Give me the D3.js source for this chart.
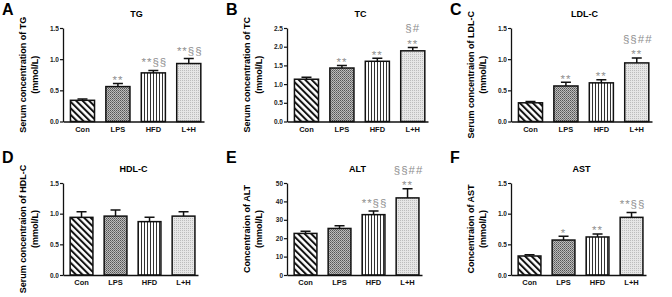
<!DOCTYPE html>
<html>
<head>
<meta charset="utf-8">
<script src="https://cdn.jsdelivr.net/npm/d3@7"></script>
<style>
  body { margin: 0; background: #fff; }
  svg { display: block; font-family: "Liberation Sans", Arial, sans-serif; }
</style>
</head>
<body>
<div id="chart-area"></div>
<script>
// Groups on the x axis of every panel
var groups = ["Con", "LPS", "HFD", "L+H"];

// Means and SEM
var tgMean = [0.34, 0.56, 0.78, 0.93],  tgErr = [0.02, 0.05, 0.04, 0.08];
var tcMean = [1.13, 1.43, 1.61, 1.89],  tcErr = [0.05, 0.07, 0.08, 0.09];
var ldlMean = [0.30, 0.57, 0.62, 0.94], ldlErr = [0.02, 0.06, 0.05, 0.08];
var hdlMean = [0.94, 0.96, 0.87, 0.96], hdlErr = [0.09, 0.10, 0.07, 0.07];
var altMean = [22.6, 25.3, 32.8, 41.9], altErr = [1.2, 1.5, 2.0, 5.0];
var astMean = [0.31, 0.57, 0.62, 0.94], astErr = [0.02, 0.06, 0.05, 0.08];

// Significance marks (bottom line first)
var tgMarks = [[], ["**"], ["**§§"], ["**§§"]];
var tcMarks = [[], ["**"], ["**"], ["**", "§#"]];
var ldlMarks = [[], ["**"], ["**"], ["**", "§§##"]];
var hdlMarks = [[], [], [], []];
var altMarks = [[], [], ["**§§"], ["**", "§§##"]];
var astMarks = [[], ["*"], ["**"], ["**§§"]];

// Tick values
var ticks15 = [0, 0.5, 1.0, 1.5];
var ticks25 = [0, 0.5, 1.0, 1.5, 2.0, 2.5];
var ticks50 = [0, 10, 20, 30, 40, 50];

var panels = [
  {letter: "A", title: "TG", lab: ["Serum concentration of TG", "(mmol/L)"], mean: tgMean, err: tgErr, marks: tgMarks, ticks: ticks15, fmt: ".1f", ox: 0, oy: 0},
  {letter: "B", title: "TC", lab: ["Serum concentration of TC", "(mmol/L)"], mean: tcMean, err: tcErr, marks: tcMarks, ticks: ticks25, fmt: ".1f", ox: 224, oy: 0},
  {letter: "C", title: "LDL-C", lab: ["Serum concentraion of LDL-C", "(mmol/L)"], mean: ldlMean, err: ldlErr, marks: ldlMarks, ticks: ticks15, fmt: ".1f", ox: 448, oy: 0},
  {letter: "D", title: "HDL-C", lab: ["Serum concentraion of HDL-C", "(mmol/L)"], mean: hdlMean, err: hdlErr, marks: hdlMarks, ticks: ticks15, fmt: ".1f", ox: 0, oy: 148},
  {letter: "E", title: "ALT", lab: ["Concentraion of ALT", "(mmol/L)"], mean: altMean, err: altErr, marks: altMarks, ticks: ticks50, fmt: "d", ox: 224, oy: 148},
  {letter: "F", title: "AST", lab: ["Concentraion of AST", "(mmol/L)"], mean: astMean, err: astErr, marks: astMarks, ticks: ticks15, fmt: ".1f", ox: 448, oy: 148}
];

var svg = d3.select("#chart-area")
  .append("svg")
    .attr("width", 672)
    .attr("height", 297);

// Fill patterns for the four groups
var defs = svg.append("defs");

var p0 = defs.append("pattern")
    .attr("id", "fill-Con")
    .attr("patternUnits", "userSpaceOnUse")
    .attr("width", 4.6).attr("height", 4.6)
    .attr("patternTransform", "rotate(-45)");
p0.append("rect").attr("width", 4.6).attr("height", 4.6).attr("fill", "#fff");
p0.append("rect").attr("width", 2).attr("height", 4.6).attr("fill", "#111");

var p1 = defs.append("pattern")
    .attr("id", "fill-LPS")
    .attr("patternUnits", "userSpaceOnUse")
    .attr("width", 2).attr("height", 2);
p1.append("rect").attr("width", 2).attr("height", 2).attr("fill", "#bcbcbc");
p1.append("rect").attr("width", 1).attr("height", 1).attr("fill", "#555");
p1.append("rect").attr("x", 1).attr("y", 1).attr("width", 1).attr("height", 1).attr("fill", "#777");

var p2 = defs.append("pattern")
    .attr("id", "fill-HFD")
    .attr("patternUnits", "userSpaceOnUse")
    .attr("width", 3).attr("height", 3);
p2.append("rect").attr("width", 3).attr("height", 3).attr("fill", "#fff");
p2.append("rect").attr("width", 1).attr("height", 3).attr("fill", "#333");

var p3 = defs.append("pattern")
    .attr("id", "fill-LH")
    .attr("patternUnits", "userSpaceOnUse")
    .attr("width", 2).attr("height", 2);
p3.append("rect").attr("width", 2).attr("height", 2).attr("fill", "#e6e6e6");
p3.append("rect").attr("width", 1).attr("height", 1).attr("fill", "#bdbdbd");

var fillId = {"Con": "url(#fill-Con)", "LPS": "url(#fill-LPS)", "HFD": "url(#fill-HFD)", "L+H": "url(#fill-LH)"};

panels.forEach(function(p) {
  var top = p.oy === 0 ? 28 : 35;
  var bottom = p.oy === 0 ? 121.5 : 127;
  var right = p.oy === 0 ? 204 : 198;

  var g = svg.append("g")
      .attr("transform", "translate(" + p.ox + "," + p.oy + ")");

  var x = d3.scaleBand()
      .domain(groups)
      .range([63, right])
      .paddingInner(p.oy === 0 ? 0.32 : 0.33)
      .paddingOuter(0.15)
      .align(0.7);

  var y = d3.scaleLinear()
      .domain([0, p.ticks[p.ticks.length - 1]])
      .range([bottom, top]);

  // Bars
  g.selectAll("rect.bar")
    .data(groups)
    .enter()
    .append("rect")
      .attr("class", "bar")
      .attr("x", function(d) { return x(d); })
      .attr("width", x.bandwidth())
      .attr("y", function(d, i) { return y(p.mean[i]); })
      .attr("height", function(d, i) { return y(0) - y(p.mean[i]); })
      .attr("fill", function(d) { return fillId[d]; })
      .attr("stroke", "#111")
      .attr("stroke-width", 1.5);

  // Error bars (upper only)
  var cap = 5;
  g.selectAll("path.err")
    .data(groups)
    .enter()
    .append("path")
      .attr("class", "err")
      .attr("d", function(d, i) {
        var cx = x(d) + x.bandwidth() / 2;
        var y0 = y(p.mean[i]), y1 = y(p.mean[i] + p.err[i]);
        return "M" + cx + "," + y0 + "V" + y1 + "M" + (cx - cap) + "," + y1 + "H" + (cx + cap);
      })
      .attr("fill", "none")
      .attr("stroke", "#111")
      .attr("stroke-width", 1.5);

  // Significance marks
  groups.forEach(function(d, i) {
    var cx = x(d) + x.bandwidth() / 2;
    var capY = y(p.mean[i] + p.err[i]);
    p.marks[i].forEach(function(m, j) {
      var starOnly = /^\*+$/.test(m);
      var base = j === 0 ? (starOnly ? capY + 0.5 : capY - 4) : capY - 15;
      g.append("text")
        .attr("x", cx + (m.length > 2 ? 1 : 0))
        .attr("y", base)
        .attr("text-anchor", "middle")
        .attr("font-size", "11.5px")
        .attr("fill", "#8f8f8f")
        .attr("letter-spacing", "1px")
        .text(m);
    });
  });

  // Axes
  var yAxis = d3.axisLeft(y)
      .tickValues(p.ticks)
      .tickFormat(d3.format(p.fmt))
      .tickSize(3)
      .tickSizeOuter(0);
  var ya = g.append("g")
      .attr("transform", "translate(63,0)")
      .call(yAxis);
  ya.select(".domain").attr("stroke", "#111").attr("stroke-width", 1.3);
  ya.selectAll(".tick line").attr("stroke", "#111").attr("stroke-width", 1.2);
  ya.selectAll(".tick text")
      .attr("x", -4)
      .attr("font-size", "6.5px")
      .attr("font-weight", "bold")
      .attr("fill", "#222")
      .attr("font-family", "'Liberation Sans', Arial, sans-serif");

  var xAxis = d3.axisBottom(x)
      .tickSize(0)
      .tickSizeOuter(0);
  var xa = g.append("g")
      .attr("transform", "translate(0," + bottom + ")")
      .call(xAxis);
  xa.select(".domain").attr("stroke", "#111").attr("stroke-width", 1.3);
  xa.selectAll(".tick text")
      .attr("y", 5)
      .attr("font-size", "7.5px")
      .attr("font-weight", "bold")
      .attr("fill", "#111")
      .attr("font-family", "'Liberation Sans', Arial, sans-serif");

  // Panel letter, title, y label
  g.append("text")
    .attr("x", 2)
    .attr("y", 15)
    .attr("font-size", "16px")
    .attr("font-weight", "bold")
    .text(p.letter);

  g.append("text")
    .attr("x", (x.range()[0] + x.range()[1]) / 2 + 3)
    .attr("y", p.oy === 0 ? 17 : 24)
    .attr("text-anchor", "middle")
    .attr("font-size", "9px")
    .attr("font-weight", "bold")
    .text(p.title);

  var mid = (top + bottom) / 2;
  p.lab.forEach(function(t, j) {
    g.append("text")
      .attr("transform", "translate(" + (26 + j * 12) + "," + mid + ") rotate(-90)")
      .attr("text-anchor", "middle")
      .attr("font-size", "9px")
      .attr("font-weight", "bold")
      .text(t);
  });
});
</script>
</body>
</html>
